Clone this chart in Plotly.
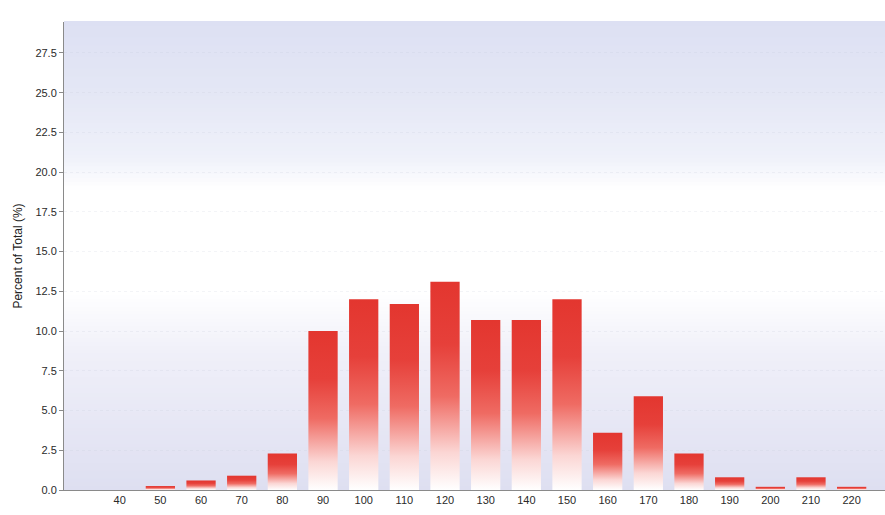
import plotly.graph_objects as go

# Histogram bins (x) and share of total per bin (%)
bins = [40, 50, 60, 70, 80, 90, 100, 110, 120, 130, 140, 150,
        160, 170, 180, 190, 200, 210, 220]
percent = [0.0, 0.25, 0.6, 0.9, 2.3, 10.0, 12.0, 11.7, 13.1, 10.7, 10.7, 12.0,
           3.6, 5.9, 2.3, 0.8, 0.2, 0.8, 0.2]
y_ticks = [0, 2.5, 5, 7.5, 10, 12.5, 15, 17.5, 20, 22.5, 25, 27.5]

BAR_W = 7.2
bar_scale = [[0.0, "#ffffff"], [0.18, "#fbd6d4"], [0.45, "#ef6b63"],
             [0.7, "#e6403a"], [1.0, "#e3362f"]]

fig = go.Figure()

# each bar is a closed polygon with its own vertical gradient (white base -> red top)
for b, p in zip(bins, percent):
    if p <= 0:
        continue
    x0, x1 = b - BAR_W / 2, b + BAR_W / 2
    fig.add_trace(go.Scatter(
        x=[x0, x0, x1, x1, x0], y=[0, p, p, 0, 0],
        mode="lines", fill="toself", line=dict(width=0, color="rgba(0,0,0,0)"),
        fillgradient=dict(type="vertical", colorscale=bar_scale),
        hoverinfo="skip", showlegend=False,
    ))

# plot-area backdrop: lavender at top, white band in the middle, lavender again at the base
stops = [(0.0, (222, 223, 241)), (0.3, (240, 240, 249)), (0.42, (255, 255, 255)),
         (0.64, (255, 255, 255)), (0.71, (239, 241, 250)), (0.85, (228, 231, 245)),
         (1.0, (221, 224, 243))]


def band_colour(f):
    for (f0, c0), (f1, c1) in zip(stops[:-1], stops[1:]):
        if f0 <= f <= f1:
            t = (f - f0) / (f1 - f0) if f1 > f0 else 0
            return "rgb(%d,%d,%d)" % tuple(round(a + (b - a) * t) for a, b in zip(c0, c1))
    return "rgb(255,255,255)"


n_bands = 120
shapes = []
for i in range(n_bands):
    f0, f1 = i / n_bands, (i + 1) / n_bands
    shapes.append(dict(type="rect", xref="paper", yref="paper", x0=0, x1=1,
                       y0=f0, y1=f1 + 0.002, layer="below", line=dict(width=0),
                       fillcolor=band_colour((f0 + f1) / 2)))

fig.update_layout(
    width=885, height=515,
    margin=dict(l=64, r=0, t=22, b=25),
    paper_bgcolor="white", plot_bgcolor="rgba(0,0,0,0)",
    shapes=shapes,
    font=dict(family="Liberation Sans, Arial, sans-serif", size=11, color="#333333"),
    xaxis=dict(range=[26.3, 228.2], tickmode="array", tickvals=bins,
               ticktext=[str(b) for b in bins], showgrid=False, zeroline=False,
               showline=True, linecolor="#8a8a8a", linewidth=1, ticks="",
               tickfont=dict(size=11, color="#2a2a2a")),
    yaxis=dict(range=[0, 29.45], tickmode="array", tickvals=y_ticks,
               ticktext=["%.1f" % v for v in y_ticks], showgrid=True,
               gridcolor="rgba(190,192,210,0.18)", griddash="dot", gridwidth=1,
               zeroline=False, showline=True, linecolor="#8a8a8a", linewidth=1,
               ticks="outside", ticklen=4, tickcolor="#8a8a8a",
               tickfont=dict(size=11, color="#2a2a2a"),
               title=dict(text="Percent of Total (%)", standoff=10,
                          font=dict(size=12, color="#222222"))),
)

fig.write_html("out.html")
